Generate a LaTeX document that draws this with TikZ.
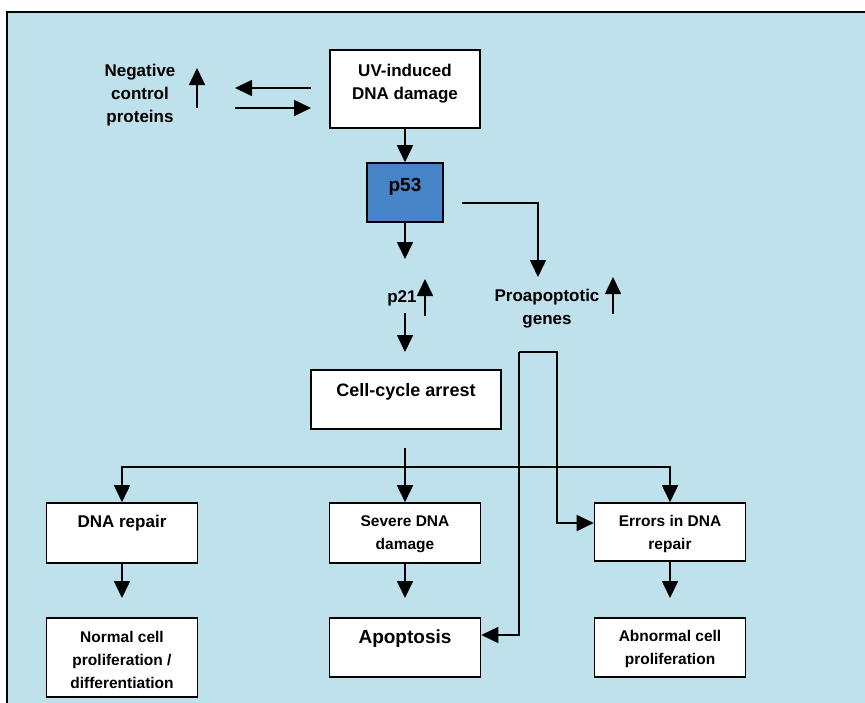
\documentclass[tikz,border=0pt]{standalone}
\usepackage{fontspec}
\setmainfont{Liberation Sans}
\usetikzlibrary{arrows.meta,calc}
\definecolor{bg}{RGB}{191,225,236}
\definecolor{pblue}{RGB}{72,132,200}
\begin{document}
\begin{tikzpicture}[x=1pt,y=-1pt,
  box/.style={draw=black,line width=1.6pt,fill=white,inner sep=0pt},
  lbl/.style={font=\bfseries\fontsize{17}{23}\selectfont,align=center,inner sep=0pt},
  big/.style={font=\bfseries\fontsize{19}{23}\selectfont,align=center,inner sep=0pt},
  sml/.style={font=\bfseries\fontsize{15.5}{23}\selectfont,align=center,inner sep=0pt},
  arr/.style={line width=1.7pt,-{Triangle[length=17pt,width=16pt]}},
  ln/.style={line width=1.7pt}]
\useasboundingbox (0,0) rectangle (865,702);
\fill[white] (0,0) rectangle (865,702);
\draw[fill=bg,line width=1.4pt] (7,12) rectangle (900,740);

% boxes
\node[box,minimum width=150pt,minimum height=78pt] (uv) at (405,89) {};
\node[lbl] (uvt) at (405,84) {UV-induced\\DNA damage};
\node[box,fill=pblue,minimum width=76pt,minimum height=59pt] (p53) at (405,192.5) {};
\node[big] (p53t) at (405,187) {p53};
\node[box,minimum width=190pt,minimum height=59pt] (cell) at (406,399.5) {};
\node[big,font=\bfseries\fontsize{18}{23}\selectfont] (cellt) at (406,392) {Cell-cycle arrest};
\node[box,minimum width=151pt,minimum height=60pt] (dnar) at (122,533) {};
\node[lbl] (dnart) at (122,523) {DNA repair};
\node[box,minimum width=151pt,minimum height=60pt] (sev) at (405,533) {};
\node[sml] (sevt) at (405,534) {Severe DNA\\damage};
\node[box,minimum width=151pt,minimum height=58pt] (err) at (670,532) {};
\node[sml] (errt) at (670,534) {Errors in DNA\\repair};
\node[box,minimum width=151pt,minimum height=79pt] (norm) at (122,657.5) {};
\node[sml] (normt) at (122,660) {Normal cell\\proliferation /\\differentiation};
\node[box,minimum width=151pt,minimum height=59pt] (apop) at (405,647.5) {};
\node[big] (apopt) at (405,639) {Apoptosis};
\node[box,minimum width=151pt,minimum height=59pt] (abn) at (670,647.5) {};
\node[sml] (abnt) at (670,649) {Abnormal cell\\proliferation};

% free labels
\node[lbl] (neg) at (140,95) {Negative\\control\\proteins};
\node[lbl] (p21) at (402,298) {p21};
\node[lbl] (pro) at (547,309) {Proapoptotic\\genes};

% coordinates
\coordinate (negup0) at (197,108);
\coordinate (negup1) at (197,68);
\coordinate (la0) at (311,88);
\coordinate (la1) at (235,88);
\coordinate (ra0) at (235,108);
\coordinate (ra1) at (311,108);
\coordinate (p53end) at (405,259);
\coordinate (p21up0) at (425,316);
\coordinate (p21up1) at (425,279);
\coordinate (p21d0) at (405,313);
\coordinate (p21d1) at (405,352);
\coordinate (proup0) at (613,314);
\coordinate (proup1) at (613,277);
\coordinate (p53r) at (462,203);
\coordinate (proin) at (538,277);
\coordinate (cell0) at (405,448);
\coordinate (hy) at (405,467);
\coordinate (lt) at (519,352);
\coordinate (rt) at (557,352);
\coordinate (errin) at (err.west |- 0,523);
\coordinate (apin) at (apop.east |- 0,635);
\coordinate (d1) at (122,598);
\coordinate (d2) at (405,598);
\coordinate (d3) at (670,598);

% connectors
\draw[arr] (negup0) -- (negup1);
\draw[arr] (la0) -- (la1);
\draw[arr] (ra0) -- (ra1);
\draw[arr] (uv.south) -- (p53.north);
\draw[arr] (p53.south) -- (p53end);
\draw[arr] (p21up0) -- (p21up1);
\draw[arr] (p21d0) -- (p21d1);
\draw[arr] (proup0) -- (proup1);
\draw[arr] (p53r) -| (proin);
\draw[arr] (cell0) -- (sev.north);
\draw[arr] (hy) -| (dnar.north);
\draw[arr] (hy) -| (err.north);
\draw[arr] (lt) |- (apin);
\draw[arr] (lt) -- (rt) |- (errin);
\draw[arr] (dnar.south) -- (d1);
\draw[arr] (sev.south) -- (d2);
\draw[arr] (err.south) -- (d3);
\end{tikzpicture}
\end{document}
